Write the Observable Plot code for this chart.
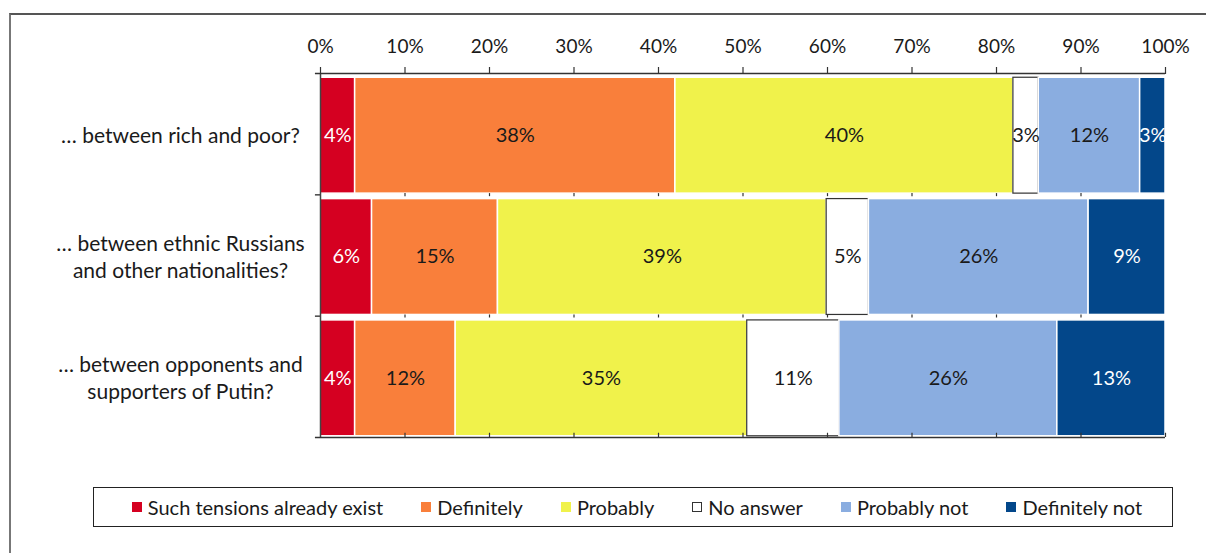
<!DOCTYPE html>
<html>
<head>
<meta charset="utf-8">
<script src="https://cdn.jsdelivr.net/npm/d3@7"></script>
<script src="https://cdn.jsdelivr.net/npm/@observablehq/plot@0.6"></script>
<style>
  html, body { margin: 0; padding: 0; background: #fff; }
  #wrap { position: relative; width: 1206px; height: 553px; overflow: hidden; font-family: Lato, "Open Sans", sans-serif; color: #1a1a1a; }
  #frame { position: absolute; left: 9px; top: 13px; width: 1300px; height: 600px; border-top: 2px solid #555; border-left: 2px solid #777; pointer-events: none; }
  #chart { position: absolute; left: 0; top: 0; }
  #legend { position: absolute; left: 93px; top: 487px; width: 1070px; height: 38px; box-sizing: content-box; padding-left: 8px; border: 1.5px solid #222; display: flex; align-items: center; justify-content: center; gap: 38px; font-size: 20px; }
  .item { display: flex; align-items: center; gap: 6px; white-space: nowrap; }
  .sw { width: 10px; height: 10px; box-sizing: border-box; }
</style>
</head>
<body>
<div id="wrap">
  <div id="chart"></div>
  <div id="frame"></div>
  <div id="legend"></div>
</div>
<script>
const categories = [
  "… between rich and poor?",
  "… between ethnic Russians\nand other nationalities?",
  "… between opponents and\nsupporters of Putin?"
];
const responses = ["Such tensions already exist", "Definitely", "Probably", "No answer", "Probably not", "Definitely not"];
const colors = ["#D50021", "#F97F3B", "#F0F24B", "#FFFFFF", "#8AADE0", "#03478A"];
const labelColors = ["#ffffff", "#1a1a1a", "#1a1a1a", "#1a1a1a", "#1a1a1a", "#ffffff"];
const richPoor = [4.1, 37.9, 40.0, 3.0, 12.0, 3.0];
const ethnic = [6.1, 14.9, 38.9, 5.0, 26.0, 9.1];
const putin = [4.1, 11.9, 34.5, 10.9, 25.8, 12.8];
const xTicks = [0, 10, 20, 30, 40, 50, 60, 70, 80, 90, 100];

const series = [richPoor, ethnic, putin];
const rows = [];
series.forEach((vals, i) => {
  let acc = 0;
  vals.forEach((v, j) => {
    rows.push({row: i, resp: responses[j], j, x1: acc, x2: acc + v, value: v});
    acc += v;
  });
});

const plot = Plot.plot({
  width: 1206,
  height: 470,
  marginLeft: 320,
  marginRight: 41,
  marginTop: 73,
  marginBottom: 33,
  style: {background: "transparent", fontFamily: "Lato, 'Open Sans', sans-serif", fontSize: "18px", color: "#1a1a1a"},
  x: {domain: [0, 100], axis: null},
  y: {type: "linear", domain: [-0.5, 2.5], reverse: true, axis: null},
  marks: [
    Plot.rect(rows, {
      x1: "x1", x2: "x2",
      y1: d => d.row - 0.465, y2: d => d.row + 0.49,
      fill: d => colors[d.j],
      stroke: d => d.j === 3 ? "#333" : "#fff",
      strokeWidth: d => d.j === 3 ? 1.2 : 1.5
    }),
    Plot.text(rows, {
      x: d => (d.x1 + d.x2) / 2,
      y: d => d.row + 0.012,
      text: d => Math.round(d.value) + "%",
      fill: d => labelColors[d.j],
      fontSize: 20
    }),
    Plot.text(categories, {
      y: (d, i) => i,
      text: d => d,
      frameAnchor: "left",
      dx: -140,
      textAnchor: "middle",
      lineHeight: 1.3,
      fontSize: 21,
      fill: "#1a1a1a"
    }),
    Plot.ruleX([0], {y1: -0.5, y2: 2.5, stroke: "#444", strokeWidth: 1.5}),
    Plot.ruleY([-0.5, 2.5], {x1: -0.6, x2: 100, stroke: "#333", strokeWidth: 1.5}),
    Plot.ruleY([0.5, 1.5], {x1: -0.6, x2: 0, stroke: "#444", strokeWidth: 1.5}),
    Plot.ruleX(xTicks.filter(d => d > 0), {y1: 2.5, y2: 2.465, stroke: "#333", strokeWidth: 1.2}),
    Plot.ruleX(xTicks.filter(d => d > 0 && d < 100), {y1: 0.49, y2: 0.515, stroke: "#333", strokeWidth: 1.2}),
    Plot.ruleX(xTicks.filter(d => d > 0 && d < 100), {y1: 1.49, y2: 1.515, stroke: "#333", strokeWidth: 1.2}),
    Plot.axisX({
      anchor: "top",
      ticks: xTicks,
      tickFormat: d => d + "%",
      tickSize: 7,
      tickPadding: 14,
      fontSize: 19,
      stroke: "#333",
      strokeWidth: 1.2,
      strokeOpacity: 1,
      fill: "#1a1a1a"
    })
  ]
});
document.getElementById("chart").appendChild(plot);

const legend = document.getElementById("legend");
responses.forEach((r, j) => {
  const item = document.createElement("div");
  item.className = "item";
  const sw = document.createElement("div");
  sw.className = "sw";
  sw.style.background = colors[j];
  if (j === 3) sw.style.border = "1px solid #333";
  const t = document.createElement("span");
  t.textContent = r;
  item.appendChild(sw);
  item.appendChild(t);
  legend.appendChild(item);
});
</script>
</body>
</html>
